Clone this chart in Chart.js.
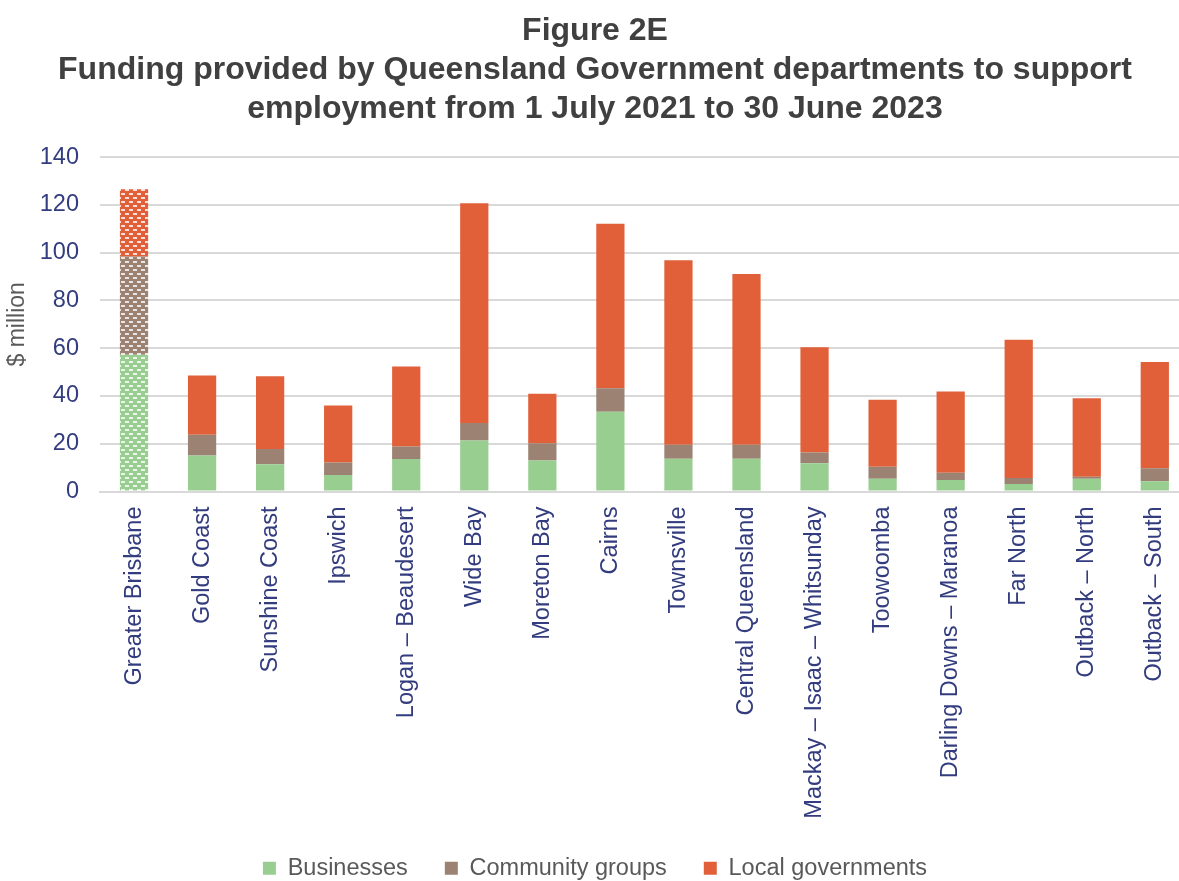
<!DOCTYPE html>
<html>
<head>
<meta charset="utf-8">
<script src="https://cdn.jsdelivr.net/npm/chart.js@4"></script>
<style>
  body { margin: 0; overflow: hidden; background: #fff; }
  #wrap { position: relative; width: 1190px; height: 890px; }
</style>
</head>
<body>
<div id="wrap"><canvas id="grafico"></canvas></div>
<script>
const regiones = ["Greater Brisbane", "Gold Coast", "Sunshine Coast", "Ipswich", "Logan – Beaudesert",
  "Wide Bay", "Moreton Bay", "Cairns", "Townsville", "Central Queensland",
  "Mackay – Isaac – Whitsunday", "Toowoomba", "Darling Downs – Maranoa", "Far North",
  "Outback – North", "Outback – South"]
const businesses = [57.2, 15.1, 11.4, 6.9, 13.6, 21.3, 13.0, 33.4, 13.7, 13.7, 11.8, 5.3, 4.8, 3.1, 5.3, 4.3]
const community = [41.2, 8.7, 6.4, 5.2, 5.2, 7.4, 7.2, 9.8, 5.9, 5.9, 4.5, 5.1, 3.1, 2.6, 0.9, 5.4]
const localGov = [28.1, 24.8, 30.5, 23.9, 33.5, 92.0, 20.7, 68.9, 77.2, 71.5, 44.1, 28.0, 34.0, 57.8, 32.8, 44.5]
const yTicks = [0, 20, 40, 60, 80, 100, 120, 140]
const colores = ["#99CE91", "#9B8272", "#E1603A"]

const navy = "#323C7E"
const fuente = "'Liberation Sans', Arial, sans-serif"

// white dash texture used for the first bar
const makePattern = (color) => {
  const tile = document.createElement("canvas")
  tile.width = 8
  tile.height = 8
  const c = tile.getContext("2d")
  c.fillStyle = color
  c.fillRect(0, 0, 8, 8)
  c.fillStyle = "rgba(255,255,255,0.8)"
  c.fillRect(1, 1, 4, 2)
  c.fillRect(5, 5, 4, 2)
  c.fillRect(-3, 5, 4, 2)
  return c.createPattern(tile, "repeat")
}

const serie = (label, data, color) => {
  const pat = makePattern(color)
  return {
    label: label,
    data: data,
    backgroundColor: (ctx) => ctx.dataIndex === 0 ? pat : color,
    borderWidth: 0,
    barPercentage: 0.415,
    categoryPercentage: 1
  }
}

new Chart(document.getElementById("grafico"), {
  type: "bar",
  data: {
    labels: regiones,
    datasets: [
      serie("Businesses", businesses, colores[0]),
      serie("Community groups", community, colores[1]),
      serie("Local governments", localGov, colores[2])
    ]
  },
  options: {
    responsive: true,
    maintainAspectRatio: false,
    animation: false,
    layout: { padding: 0 },
    plugins: {
      tooltip: { enabled: false },
      title: {
        display: true,
        text: ["Figure 2E", "Funding provided by Queensland Government departments to support",
          "employment from 1 July 2021 to 30 June 2023"],
        color: "#404040",
        font: { family: fuente, size: 32, weight: "bold", lineHeight: 1.23 },
        padding: { top: 11, bottom: 28 }
      },
      legend: {
        position: "bottom",
        labels: {
          color: "#595959",
          font: { family: fuente, size: 23.5 },
          boxWidth: 13,
          boxHeight: 13,
          padding: 37,
          generateLabels: (chart) => {
            const items = Chart.defaults.plugins.legend.labels.generateLabels(chart)
            items.forEach((it, i) => {
              it.fillStyle = colores[i]
              it.strokeStyle = colores[i]
              it.lineWidth = 0
            })
            return items
          }
        }
      }
    },
    scales: {
      x: {
        stacked: true,
        grid: { display: false },
        border: { display: true, color: "#D9D9D9", width: 2 },
        ticks: {
          color: navy,
          font: { family: fuente, size: 23.5 },
          minRotation: 90,
          maxRotation: 90,
          autoSkip: false,
          padding: 7
        },
        afterFit: (scale) => { scale.height = 328 }
      },
      y: {
        stacked: true,
        min: 0,
        max: 140,
        afterBuildTicks: (scale) => { scale.ticks = yTicks.map((v) => ({ value: v })) },
        grid: { color: "#D9D9D9", lineWidth: 2, drawTicks: false },
        border: { display: false },
        ticks: { color: navy, font: { family: fuente, size: 23.5 }, padding: 21 },
        title: {
          display: true,
          text: "$ million",
          color: "#595959",
          font: { family: fuente, size: 23 },
          padding: { top: 4, bottom: 0 }
        },
        afterFit: (scale) => { scale.width = 100 }
      }
    }
  }
})
</script>
</body>
</html>
